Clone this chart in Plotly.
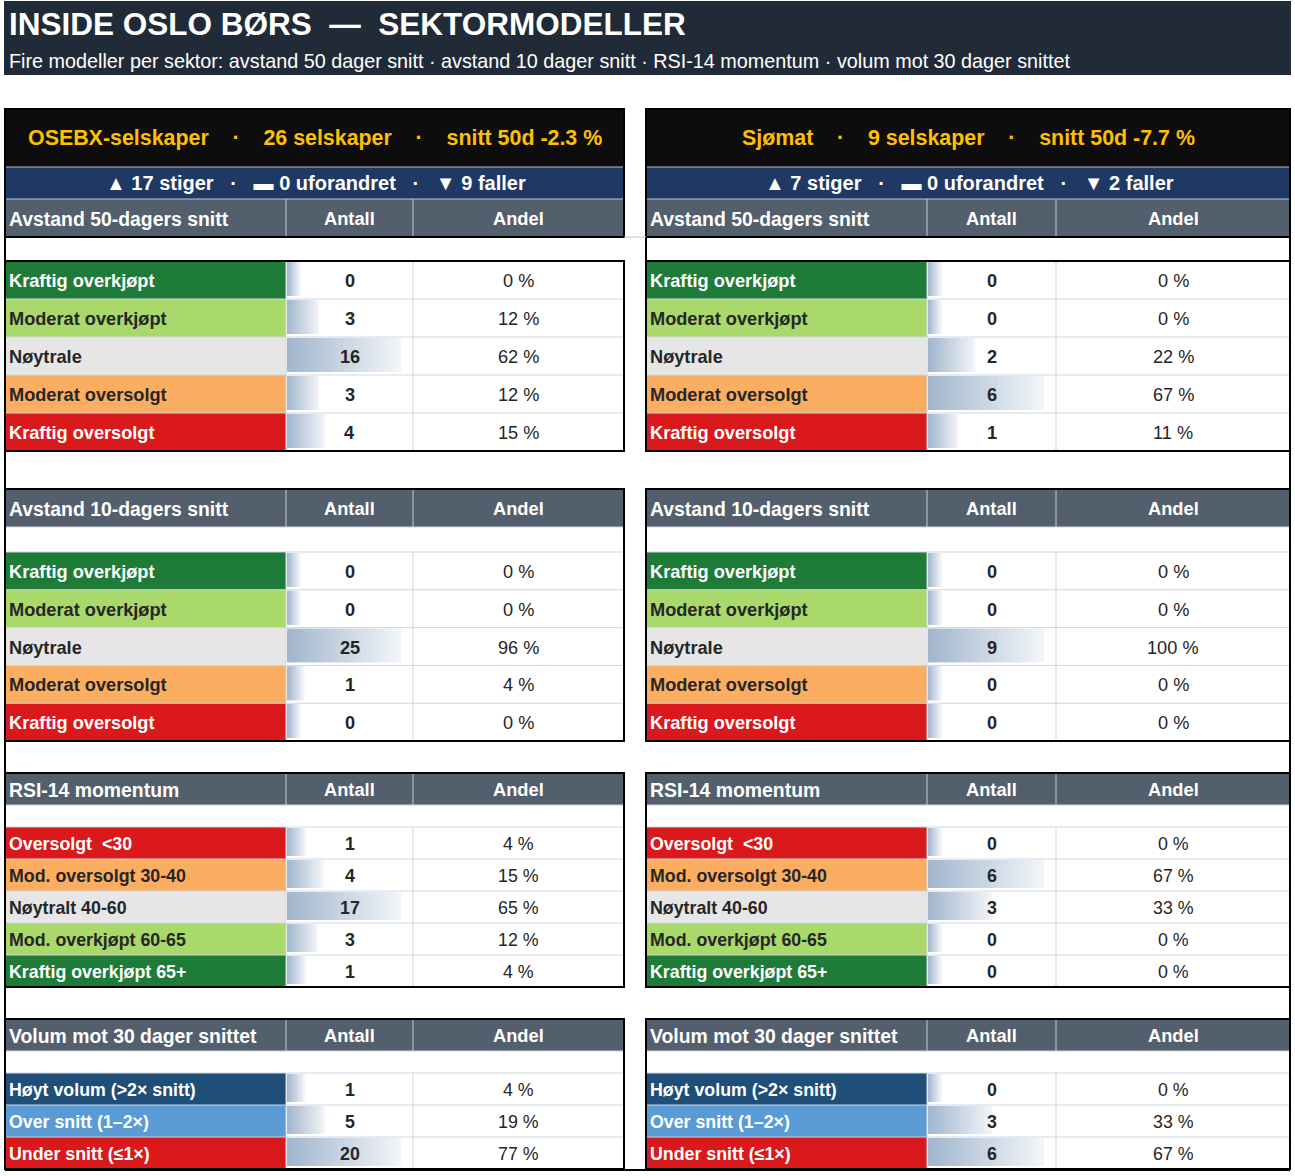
import plotly.graph_objects as go

# ---------------- data ----------------
TITLE = "INSIDE OSLO BØRS  —  SEKTORMODELLER"
SUBTITLE = ("Fire modeller per sektor: avstand 50 dager snitt · avstand 10 dager snitt · "
            "RSI-14 momentum · volum mot 30 dager snittet")

sectors = ["OSEBX-selskaper", "Sjømat"]
n_companies = [26, 9]
avg_50d = [-2.3, -7.7]
rising = [17, 7]
unchanged = [0, 0]
falling = [9, 2]

model_titles = ["Avstand 50-dagers snitt", "Avstand 10-dagers snitt",
                "RSI-14 momentum", "Volum mot 30 dager snittet"]
col_titles = ["Antall", "Andel"]

dist_labels = ["Kraftig overkjøpt", "Moderat overkjøpt", "Nøytrale",
               "Moderat oversolgt", "Kraftig oversolgt"]
rsi_labels = ["Oversolgt  <30", "Mod. oversolgt 30-40", "Nøytralt 40-60",
              "Mod. overkjøpt 60-65", "Kraftig overkjøpt 65+"]
vol_labels = ["Høyt volum (>2× snitt)", "Over snitt (1–2×)", "Under snitt (≤1×)"]

osebx_50d = [0, 3, 16, 3, 4]
osebx_50d_pct = [0, 12, 62, 12, 15]
osebx_10d = [0, 0, 25, 1, 0]
osebx_10d_pct = [0, 0, 96, 4, 0]
osebx_rsi = [1, 4, 17, 3, 1]
osebx_rsi_pct = [4, 15, 65, 12, 4]
osebx_vol = [1, 5, 20]
osebx_vol_pct = [4, 19, 77]

sjomat_50d = [0, 0, 2, 6, 1]
sjomat_50d_pct = [0, 0, 22, 67, 11]
sjomat_10d = [0, 0, 9, 0, 0]
sjomat_10d_pct = [0, 0, 100, 0, 0]
sjomat_rsi = [0, 6, 3, 0, 0]
sjomat_rsi_pct = [0, 67, 33, 0, 0]
sjomat_vol = [0, 3, 6]
sjomat_vol_pct = [0, 33, 67]

# ---------------- styles ----------------
FONT = "Liberation Sans, Arial, sans-serif"
DARK = "#262626"
GREEN, LGREEN, NEUTRAL, ORANGE, RED = "#1e7b38", "#a9d96b", "#e6e6e6", "#fbad61", "#d9191c"
DBLUE, LBLUE = "#1f4e79", "#5b9bd5"
dist_fill = [GREEN, LGREEN, NEUTRAL, ORANGE, RED]
dist_txt = ["white", DARK, DARK, DARK, "white"]
rsi_fill = [RED, ORANGE, NEUTRAL, LGREEN, GREEN]
rsi_txt = ["white", DARK, DARK, DARK, "white"]
vol_fill = [DBLUE, LBLUE, RED]
vol_txt = ["white", "white", "white"]
GRID = "#cfd5de"
HEAD_GREY = "#535f6d"
BAND_BLUE = "#203864"
BAND_BLACK = "#0d0d0d"
YELLOW = "#ffc000"
TITLE_BG = "#212b38"

W, H = 1295, 1176
panels_x = [(5, 286, 413, 624), (646, 927, 1056, 1290)]
# block geometry: header top, header bottom, first row top, row height, font size
blocks = [(199, 237, 261, 38, 18.2), (489, 527, 552, 37.8, 18.2),
          (773, 805, 827, 32, 17.8), (1019, 1051, 1073, 32, 17.8)]

panel_data = [
    [(osebx_50d, osebx_50d_pct), (osebx_10d, osebx_10d_pct),
     (osebx_rsi, osebx_rsi_pct), (osebx_vol, osebx_vol_pct)],
    [(sjomat_50d, sjomat_50d_pct), (sjomat_10d, sjomat_10d_pct),
     (sjomat_rsi, sjomat_rsi_pct), (sjomat_vol, sjomat_vol_pct)],
]
block_labels = [(dist_labels, dist_fill, dist_txt), (dist_labels, dist_fill, dist_txt),
                (rsi_labels, rsi_fill, rsi_txt), (vol_labels, vol_fill, vol_txt)]

shapes, annos = [], []


def rect(x0, y0, x1, y1, fill, layer="below"):
    shapes.append(dict(type="rect", xref="x", yref="y", x0=x0, y0=y0, x1=x1, y1=y1,
                       fillcolor=fill, line=dict(width=0), layer=layer))


def line(x0, y0, x1, y1, color, width=1, layer="above"):
    shapes.append(dict(type="line", xref="x", yref="y", x0=x0, y0=y0, x1=x1, y1=y1,
                       line=dict(color=color, width=width), layer=layer))


def text(x, y, s, size, color, bold=False, anchor="center"):
    annos.append(dict(x=x, y=y, xref="x", yref="y", text=s, showarrow=False,
                      xanchor=anchor, yanchor="middle", borderpad=0,
                      font=dict(family=FONT, size=size, color=color,
                                weight="bold" if bold else "normal")))


NB = "\u00a0"
SEP = NB * 4 + "·" + NB * 4

# title band
rect(4, 1, 1291, 75, TITLE_BG)
text(8, 24, TITLE.replace(" ", NB), 31.5, "white", bold=True, anchor="left")
text(8, 61, SUBTITLE, 19.8, "white", anchor="left")

# data bars (gradient approximated by segments)
bar_y, bar_base, bar_len, bar_w, bar_col = [], [], [], [], []
NSEG = 20
c0 = (163, 183, 206)
c1 = (241, 244, 248)

for p, (x0, x1, x2, x3) in enumerate(panels_x):
    # sector header bands
    rect(x0, 109, x3, 167, BAND_BLACK)
    rect(x0, 167, x3, 199, BAND_BLUE)
    line(x0, 167, x3, 167, "#b8c4d6", 1)
    line(x0, 199, x3, 199, "#b8c4d6", 1)
    line(x0, 237, x3, 237, "#b8c4d6", 1)
    head = sectors[p] + SEP + f"{n_companies[p]} selskaper" + SEP + f"snitt 50d {avg_50d[p]:.1f} %"
    text((x0 + x3) / 2, 138, head, 21.4, YELLOW, bold=True)
    trend = (f"▲ {rising[p]} stiger" + NB * 3 + "·" + NB * 3 + f"▬ {unchanged[p]} uforandret"
             + NB * 3 + "·" + NB * 3 + f"▼ {falling[p]} faller")
    text((x0 + x3) / 2 + 1, 183, trend, 20, "white", bold=True)

    for b, (hy0, hy1, ry0, rh, fs) in enumerate(blocks):
        counts, pcts = panel_data[p][b]
        labels, fills, tcols = block_labels[b]
        n = len(counts)
        ry1 = ry0 + n * rh
        # header
        rect(x0, hy0, x3, hy1, HEAD_GREY)
        line(x1, hy0, x1, hy1, "#c3cad4", 1)
        line(x2, hy0, x2, hy1, "#c3cad4", 1)
        text(x0 + 3, (hy0 + hy1) / 2 + 1, model_titles[b], 19.4, "white", bold=True, anchor="left")
        text((x1 + x2) / 2, (hy0 + hy1) / 2, col_titles[0], 18.3, "white", bold=True)
        text((x2 + x3) / 2, (hy0 + hy1) / 2, col_titles[1], 18.3, "white", bold=True)
        line(x0, hy1, x3, hy1, GRID, 1)
        line(x0, ry0, x3, ry0, GRID, 1)
        mx = max(counts) if max(counts) > 0 else 1
        cw = x2 - x1
        for i in range(n):
            yt = ry0 + i * rh
            yc = yt + rh / 2
            rect(x0, yt, x1, yt + rh, fills[i])
            text(x0 + 3, yc + 1, labels[i], fs, tcols[i], bold=True, anchor="left")
            text((x1 + x2) / 2, yc + 1, str(counts[i]), fs, DARK, bold=True)
            text((x2 + x3) / 2, yc + 1, f"{pcts[i]}{NB}%", fs, DARK)
            if i > 0:
                line(x0, yt, x3, yt, GRID, 1)
            # Excel style data bar length: 10% .. 90% of cell width
            length = cw * (0.1 + 0.8 * counts[i] / mx)
            seg = length / NSEG
            for k in range(NSEG):
                t = k / (NSEG - 1)
                col = tuple(round(c0[j] + (c1[j] - c0[j]) * t) for j in range(3))
                bar_y.append(yt + 1 + (rh - 4) / 2)
                bar_base.append(x1 + 1 + k * seg)
                bar_len.append(seg + (1.5 if k < NSEG - 1 else 0))
                bar_w.append(rh - 4)
                bar_col.append("rgb(%d,%d,%d)" % col)
        line(x1, ry0, x1, ry1, GRID, 1)
        line(x2, ry0, x2, ry1, GRID, 1)
        # block black box
        by0 = ry0 if b == 0 else hy0
        shapes.append(dict(type="rect", xref="x", yref="y", x0=x0, y0=by0, x1=x3, y1=ry1,
                           line=dict(color="black", width=2), fillcolor="rgba(0,0,0,0)",
                           layer="above"))
    # top box
    shapes.append(dict(type="rect", xref="x", yref="y", x0=x0, y0=109, x1=x3, y1=237,
                       line=dict(color="black", width=2), fillcolor="rgba(0,0,0,0)",
                       layer="above"))

# panel outer lines
line(5, 109, 5, 1170, "black", 2)
line(1290, 109, 1290, 1170, "black", 2)
line(646, 237, 646, 261, "black", 2)
line(5, 1170, 1290, 1170, "black", 2)
line(624, 237, 646, 237, "#b8c4d6", 1)

fig = go.Figure()
fig.add_trace(go.Bar(orientation="h", y=bar_y, x=bar_len, base=bar_base, width=bar_w,
                     marker=dict(color=bar_col, line=dict(width=0)),
                     hoverinfo="skip", showlegend=False))

fig.update_layout(
    width=W, height=H, margin=dict(l=0, r=0, t=0, b=0),
    paper_bgcolor="white", plot_bgcolor="white",
    barmode="overlay", showlegend=False,
    xaxis=dict(range=[0, W], visible=False, fixedrange=True),
    yaxis=dict(range=[H, 0], visible=False, fixedrange=True),
    shapes=shapes, annotations=annos,
)

fig.write_html("out.html", config={"displayModeBar": False},
               post_script="document.body.style.margin='0';")
